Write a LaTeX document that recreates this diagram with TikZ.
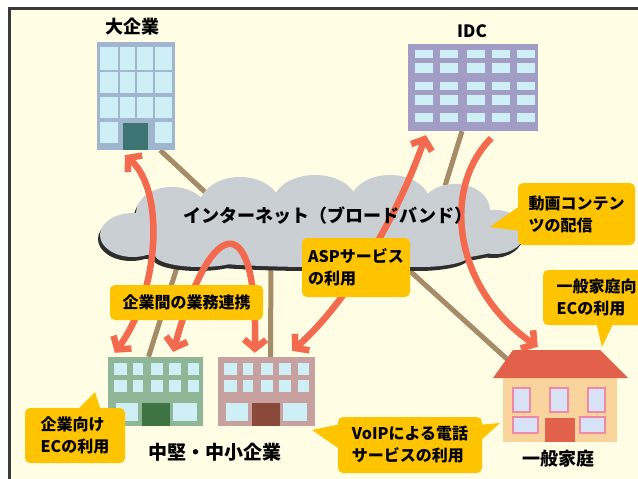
\documentclass[tikz,border=0pt]{standalone}
\usepackage{fontspec}
\setmainfont{Noto Sans CJK JP}
\usetikzlibrary{arrows.meta,calc}
\definecolor{paper}{HTML}{FFFDE4}
\definecolor{framegray}{HTML}{3A3A3A}
\definecolor{cloudgray}{HTML}{C9CFD3}
\definecolor{cloudshade}{HTML}{2E2E2E}
\definecolor{linkred}{HTML}{F36A4F}
\definecolor{cable}{HTML}{A58B68}
\definecolor{tag}{HTML}{FFC400}
\definecolor{bigblue}{HTML}{9FB6CE}
\definecolor{bigdoor}{HTML}{3D7574}
\definecolor{idcviolet}{HTML}{A29DC4}
\definecolor{glass}{HTML}{CFEFF6}
\definecolor{midgreen}{HTML}{8FB797}
\definecolor{greendoor}{HTML}{3E7444}
\definecolor{midpink}{HTML}{C7A0A0}
\definecolor{pinkdoor}{HTML}{8A4A3A}
\definecolor{roof}{HTML}{E2614A}
\definecolor{wall}{HTML}{F8D39C}
\definecolor{wframe}{HTML}{EE8AA6}
\definecolor{wglass}{HTML}{D8E2F6}
\begin{document}
\begin{tikzpicture}[x=1pt,y=-1pt,
  bldg/.style={rectangle, inner sep=0pt, draw=none},
  cableline/.style={draw=cable, line width=5pt},
  link/.style={draw=linkred, line width=6.5pt},
  linkhead/.tip={Straight Barb[length=9pt,width=22pt]},
  tagbox/.style={fill=tag, rounded corners=5pt, inner sep=0pt, align=left,
    font=\bfseries\fontsize{16}{22}\selectfont},
  caption/.style={inner sep=0pt, font=\bfseries\fontsize{18}{20}\selectfont},
  tail/.style={fill=tag}]
\useasboundingbox (0,0) rectangle (638,479);
% sheet
\fill[white] (0,0) rectangle (638,479);
\fill[paper] (10,10) rectangle (638,479);
\draw[framegray, line width=2.5pt] (9.5,479) -- (9.5,8.5) -- (638,8.5);

% buildings and house
\node[bldg, fill=bigblue, minimum width=78pt, minimum height=108pt] (big) at (136,96) {};
\node[bldg, fill=idcviolet, minimum width=130pt, minimum height=87pt] (idc) at (473,87.5) {};
\node[bldg, fill=midgreen, minimum width=95pt, minimum height=69pt] (green) at (155.5,391.5) {};
\node[bldg, fill=midpink, minimum width=97pt, minimum height=69pt] (pink) at (266.5,391.5) {};
\node[bldg, fill=wall, minimum width=114pt, minimum height=64pt] (house) at (560,410) {};

% cloud anchor points for the cables
\coordinate (cBig) at (205,192);
\coordinate (cIdc) at (445,186);
\coordinate (cGreen) at (180,258);
\coordinate (cPink) at (271,258);
\coordinate (cHome) at (400,262);

% cables
\draw[cableline] ($(big.south east)+(-15,0)$) -- (cBig);
\draw[cableline] ($(idc.south)+(-11,0)$) -- (cIdc);
\draw[cableline] ($(green.north)+(-7,0)$) -- (cGreen);
\draw[cableline] ($(pink.north)+(4,0)$) -- (cPink);
\draw[cableline] ($(house.north west)+(5,-18)$) -- (cHome);

% cloud: shadow first, then the grey body
\foreach \dx/\dy/\col in {-2/-4/cloudshade, 0/0/cloudgray}{
  \fill[\col, xshift=\dx pt, yshift=\dy pt]
    (133,235) ellipse [x radius=33pt, y radius=22pt]
    (172,213) ellipse [x radius=36pt, y radius=26pt]
    (240,205) ellipse [x radius=40pt, y radius=28pt]
    (315,203) ellipse [x radius=42pt, y radius=28pt]
    (390,203) ellipse [x radius=40pt, y radius=28pt]
    (455,210) ellipse [x radius=35pt, y radius=26pt]
    (495,232) ellipse [x radius=30pt, y radius=22pt]
    (200,255) ellipse [x radius=45pt, y radius=12pt]
    (420,255) ellipse [x radius=50pt, y radius=12pt]
    (315,238) ellipse [x radius=205pt, y radius=29pt];
}

% redraw buildings over cable ends
\fill[bigblue] (big.south west) rectangle (big.north east);
\fill[idcviolet] (idc.south west) rectangle (idc.north east);
\fill[midgreen] (green.south west) rectangle (green.north east);
\fill[midpink] (pink.south west) rectangle (pink.north east);

% large company windows
\begin{scope}[shift={(big.north west)}]
  \foreach \xa/\xb in {3/21,23/38,40/56,58/75}
    \foreach \ya/\yb in {5/28,30/51,55/76}
      \fill[glass] (\xa,\ya) rectangle (\xb,\yb);
  \fill[glass] (3,80) rectangle (21,101);
  \fill[glass] (58,80) rectangle (75,101);
  \fill[bigdoor] (26,81) rectangle (51,108);
\end{scope}

% data centre windows
\begin{scope}[shift={(idc.north west)}]
  \foreach \xa/\xb in {7/25,32/50,59/77,84/102,109/127}
    \foreach \ya/\yb in {6/14,19/29,38/46,51/61,69/78}
      \fill[glass] (\xa,\ya) rectangle (\xb,\yb);
\end{scope}

% small office windows
\foreach \b/\door in {green/greendoor, pink/pinkdoor}{
  \begin{scope}[shift={(\b.north west)}]
    \foreach \xa/\xb in {6/19,25/35,43/55,61/73,80/91}
      \foreach \ya/\yb in {6/18,23/35}
        \fill[glass] (\xa,\ya) rectangle (\xb,\yb);
    \fill[glass] (8,46) rectangle (30,64);
    \fill[glass] (65,46) rectangle (89,64);
    \fill[\door] (34,46) rectangle (62,69);
  \end{scope}
}

% house
\fill[roof] (513,350) -- (600,350) -- (628,378) -- (493,378) -- cycle;
\begin{scope}[shift={(house.north west)}]
  \foreach \xa/\xb in {10/27,47/65,85/102}
    \filldraw[fill=wglass, draw=wframe, line width=1.5pt] (\xa,10) rectangle (\xb,34);
  \filldraw[fill=wglass, draw=wframe, line width=1.5pt] (10,39) rectangle (35,55);
  \filldraw[fill=wglass, draw=wframe, line width=1.5pt] (77,39) rectangle (102,55);
  \fill[roof] (42,40) rectangle (72,64);
\end{scope}

% traffic arrows
\draw[link, linkhead-linkhead] ($(green.north west)+(7,-4)$)
  .. controls (160,290) and (165,190) .. ($(big.south)+(-11,5)$);
\draw[link, linkhead-linkhead] ($(green.north east)+(-30,-5)$)
  .. controls (212,210) and (258,210) .. ($(pink.north west)+(37,-4)$);
\draw[link, linkhead-linkhead] ($(pink.north east)+(-23,-6)$)
  .. controls (350,300) and (400,210) .. ($(idc.south west)+(18,4)$);
\draw[link, -linkhead] ($(idc.south east)+(-47,7)$)
  .. controls (440,190) and (455,290) .. ($(house.north west)+(35,-31)$);

% network caption
\node[inner sep=0pt, font=\bfseries\fontsize{18}{20}\selectfont] (inet) at (328,216)
  {インターネット（ブロードバンド）};

% callouts
\fill[tail] (521,205) -- (490,227) -- (521,231) -- cycle;
\fill[tail] (596,322) -- (602,347) -- (614,322) -- cycle;
\fill[tail] (76,411) -- (95,392) -- (101,411) -- cycle;
\fill[tail] (341,424) -- (312,430) -- (341,450) -- cycle;
\fill[tail] (479,425) -- (500,423) -- (479,442) -- cycle;
\node[tagbox, minimum width=117pt, minimum height=62pt] (tVideo) at (576.5,214) {動画コンテン\\ツの配信};
\node[tagbox, minimum width=107pt, minimum height=55pt] (tHome) at (596.5,297.5) {一般家庭向\\ECの利用};
\node[tagbox, minimum width=108pt, minimum height=59pt] (tASP) at (356,267.5) {ASPサービス\\の利用};
\node[tagbox, minimum width=153pt, minimum height=35pt] (tB2B) at (186.5,302.5) {企業間の業務連携};
\node[tagbox, minimum width=100pt, minimum height=55pt] (tBizEC) at (75,435.5) {企業向け\\ECの利用};
\node[tagbox, minimum width=144pt, minimum height=56pt] (tVoIP) at (410,445) {VoIPによる電話\\サービスの利用};

% captions
\node[caption] (lBig) at (132,27) {大企業};
\node[caption, font=\bfseries\fontsize{17}{20}\selectfont] (lIdc) at (472,31) {IDC};
\node[caption, font=\bfseries\fontsize{19}{21}\selectfont] (lSme) at (215,452) {中堅・中小企業};
\node[caption] (lHome) at (558,459) {一般家庭};
\end{tikzpicture}
\end{document}
